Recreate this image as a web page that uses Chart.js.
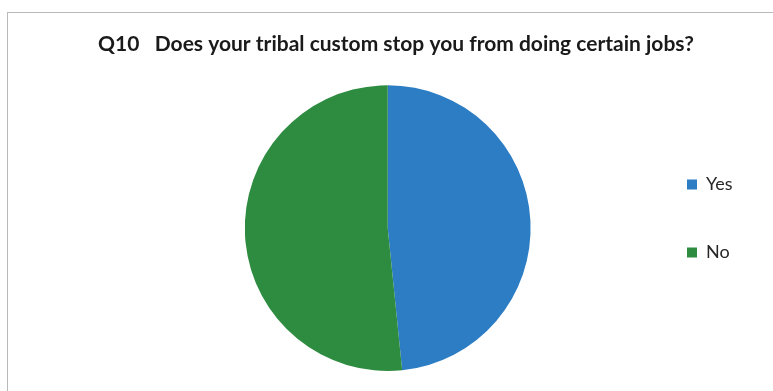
<!DOCTYPE html>
<html>
<head>
<meta charset="utf-8">
<script src="https://cdn.jsdelivr.net/npm/chart.js@4"></script>
<style>
  html, body { margin: 0; padding: 0; background: #fff; }
  #frame { position: absolute; left: 7px; top: 12px; width: 820px; height: 420px; border: 1px solid #b9b9b9; }
  #wrap { position: absolute; left: 0; top: 0; width: 773px; height: 391px; }
</style>
</head>
<body>
<div id="frame"></div>
<div id="wrap"><canvas id="pie"></canvas></div>
<script>
const categories = ["Yes", "No"];
const answers = [15, 16];
const sliceColors = ["#2d7dc5", "#2e8c41"];
const question = "Q10   Does your tribal custom stop you from doing certain jobs?";

// the original centres the title on the frame and keeps the legend nearer the pie
const placeBoxes = {
  id: "placeBoxes",
  afterLayout(chart) {
    const t = chart.titleBlock;
    const w = t.right - t.left;
    t.left = 396 - w / 2;
    t.right = t.left + w;

    const lg = chart.legend;
    const dx = 687 - (lg.left + lg.options.labels.padding);
    lg.left += dx;
    lg.right += dx;
    lg.top += 33;
    lg.bottom += 33;
  },
};

const ctx = document.getElementById("pie").getContext("2d");
new Chart(ctx, {
  type: "pie",
  data: {
    labels: categories,
    datasets: [{
      data: answers,
      backgroundColor: sliceColors,
      borderWidth: 0,
      hoverOffset: 0,
    }],
  },
  options: {
    responsive: true,
    maintainAspectRatio: false,
    animation: false,
    layout: { padding: { left: 95, right: -13, top: 0, bottom: 20 } },
    plugins: {
      title: {
        display: true,
        text: question,
        color: "#1a1a1a",
        font: { family: "Lato", size: 21, weight: "bold" },
        padding: { top: 32, bottom: 28 },
      },
      legend: {
        position: "right",
        labels: {
          boxWidth: 10,
          boxHeight: 10,
          padding: 50,
          color: "#262626",
          font: { family: "Lato", size: 18 },
        },
      },
      tooltip: { enabled: false },
    },
  },
  plugins: [placeBoxes],
});
</script>
</body>
</html>
